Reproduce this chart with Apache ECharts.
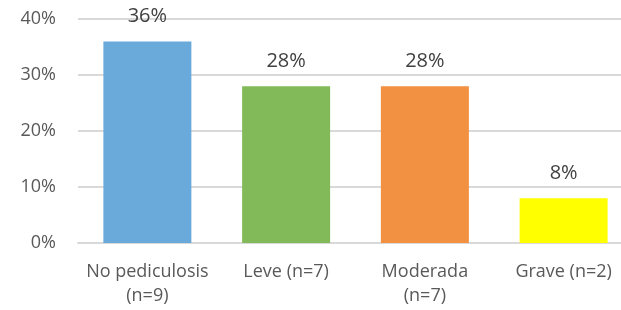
<!DOCTYPE html>
<html>
<head>
<meta charset="utf-8">
<script src="https://cdn.jsdelivr.net/npm/echarts@6/dist/echarts.min.js"></script>
<style>
  html, body { margin: 0; padding: 0; background: #fff; }
  #chart { width: 621px; height: 310px; }
</style>
</head>
<body>
<div id="chart"></div>
<script>
  var categories = ['No pediculosis\n(n=9)', 'Leve (n=7)', 'Moderada\n(n=7)', 'Grave (n=2)'];
  var percents = [36, 28, 28, 8];
  var barColors = ['#6aaadb', '#82ba5a', '#f29141', '#ffff00'];
  var yTicks = [0, 10, 20, 30, 40];

  var chart = echarts.init(document.getElementById('chart'));
  chart.setOption({
    animation: false,
    textStyle: { fontFamily: 'Open Sans' },
    grid: { left: 78, top: 19, width: 555, height: 224, outerBoundsMode: 'none' },
    xAxis: {
      type: 'category',
      data: categories,
      axisLine: { show: true, lineStyle: { color: '#d9d9d9', width: 2 } },
      axisTick: { show: false },
      axisLabel: { color: '#595959', fontSize: 18, lineHeight: 24, margin: 17, interval: 0 }
    },
    yAxis: {
      type: 'value',
      min: yTicks[0],
      max: yTicks[yTicks.length - 1],
      interval: 10,
      axisLine: { show: false },
      axisTick: { show: false },
      splitLine: { lineStyle: { color: '#d9d9d9', width: 2 } },
      axisLabel: { color: '#595959', fontSize: 18, margin: 22, formatter: '{value}%' }
    },
    series: [{
      type: 'bar',
      barWidth: 88,
      data: percents.map(function (v, i) {
        return { value: v, itemStyle: { color: barColors[i] } };
      }),
      label: {
        show: true,
        position: 'top',
        distance: 15,
        color: '#404040',
        fontSize: 20,
        formatter: '{c}%'
      }
    }]
  });
</script>
</body>
</html>
